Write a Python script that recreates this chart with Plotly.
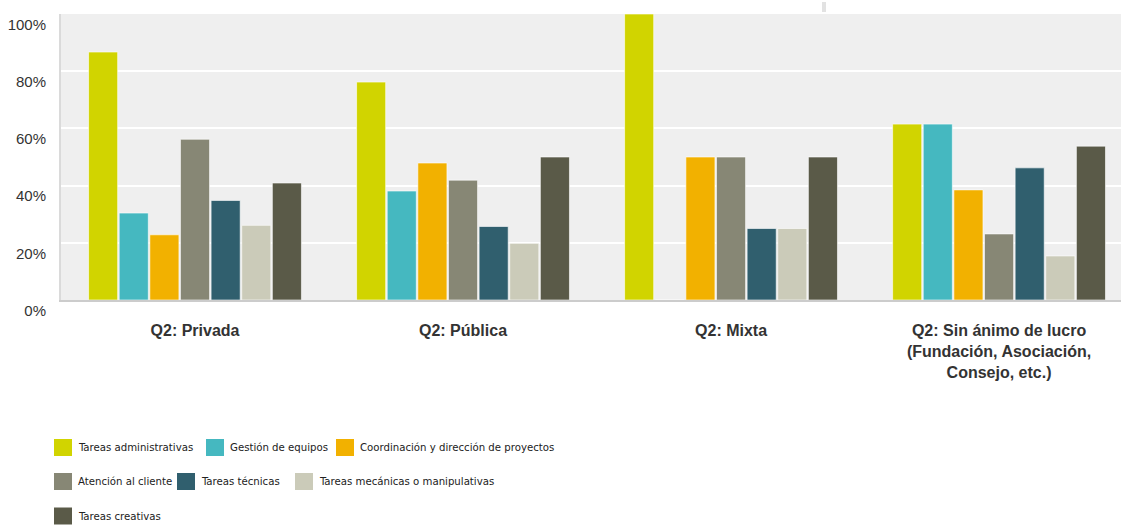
import plotly.graph_objects as go

# categories (x axis)
categories = [
    "Q2: Privada",
    "Q2: Pública",
    "Q2: Mixta",
    "Q2: Sin ánimo de lucro<br>(Fundación, Asociación,<br>Consejo, etc.)",
]

# series (% of respondents)
series_names = [
    "Tareas administrativas",
    "Gestión de equipos",
    "Coordinación y dirección de proyectos",
    "Atención al cliente",
    "Tareas técnicas",
    "Tareas mecánicas o manipulativas",
    "Tareas creativas",
]
admin = [86.7, 76.2, 100, 61.5]
gestion = [30.4, 38.1, 0, 61.5]
coordinacion = [22.8, 47.9, 50, 38.5]
atencion = [56.2, 41.9, 50, 23.1]
tecnicas = [34.8, 25.7, 25, 46.2]
mecanicas = [26.1, 19.8, 25, 15.4]
creativas = [40.9, 50.0, 50, 53.8]

y_ticks = [0, 20, 40, 60, 80, 100]
y_tick_labels = ["0%", "20%", "40%", "60%", "80%", "100%"]

colors = ["#d1d400", "#45b8c0", "#f2b100", "#878775", "#305f6e", "#cbcbb9", "#5a5a48"]

values = [admin, gestion, coordinacion, atencion, tecnicas, mecanicas, creativas]

fig = go.Figure()
for name, vals, col in zip(series_names, values, colors):
    fig.add_trace(go.Bar(
        x=categories, y=vals, name=name,
        marker=dict(color=col, line=dict(color="rgba(255,255,255,0.6)", width=1)),
        showlegend=False,
    ))

# plot area in pixels: left 61, right 1121, top 14, bottom 300
L, R, T, B = 61, 1121, 14, 300


def px_x(px):
    return (px - L) / (R - L)


def px_y(py):
    return (B - py) / (B - T)


# hand-drawn legend (rows as in the original)
legend_rows = [
    [(0, 54), (1, 206), (2, 336)],
    [(3, 54), (4, 177), (5, 295)],
    [(6, 54)],
]
row_y = [447.5, 481.5, 516]
legend_font = "Noto Sans Condensed, DejaVu Sans Condensed, Liberation Sans Narrow, Arial Narrow, Liberation Sans"
shapes = []
annotations = []
for row, cy in zip(legend_rows, row_y):
    for idx, sx in row:
        shapes.append(dict(
            type="rect", xref="paper", yref="paper",
            x0=px_x(sx), x1=px_x(sx + 18), y0=px_y(cy + 8.5), y1=px_y(cy - 8.5),
            fillcolor=colors[idx], line=dict(width=0),
        ))
        annotations.append(dict(
            xref="paper", yref="paper", x=px_x(sx + 22), y=px_y(cy),
            xanchor="left", yanchor="middle", showarrow=False,
            text=series_names[idx],
            font=dict(family=legend_font, size=11.3, color="#222222"),
        ))

# small grey mark near the top
shapes.append(dict(type="rect", xref="paper", yref="paper",
                   x0=px_x(822), x1=px_x(826), y0=px_y(12), y1=px_y(2),
                   fillcolor="#e2e2e2", line=dict(width=0)))

fig.update_layout(
    width=1121, height=525,
    margin=dict(l=L, r=1121 - R, t=T, b=525 - B),
    paper_bgcolor="white",
    plot_bgcolor="#efefef",
    barmode="group",
    bargap=0.2,
    bargroupgap=0.05,
    font=dict(family="Liberation Sans, Arial, sans-serif", color="#333333"),
    shapes=shapes,
    annotations=annotations,
    xaxis=dict(
        type="category",
        range=[-0.5, 3.455],
        showgrid=False,
        showline=True, linecolor="#cccccc", linewidth=2,
        tickfont=dict(size=16, color="#333333", family="Liberation Sans, Arial, sans-serif", weight="bold"),
        ticklabelstandoff=15,
        fixedrange=True,
    ),
    yaxis=dict(
        range=[0, 100],
        tickvals=y_ticks,
        ticktext=y_tick_labels,
        showgrid=True, gridcolor="white", gridwidth=2,
        showline=True, linecolor="#dadada", linewidth=2,
        zeroline=False,
        ticklabelposition="outside bottom",
        ticklabelstandoff=10,
        tickfont=dict(size=15, color="#333333"),
        fixedrange=True,
    ),
)

fig.write_html("out.html", config={"displayModeBar": False},
               post_script="document.body.style.margin='0';")
